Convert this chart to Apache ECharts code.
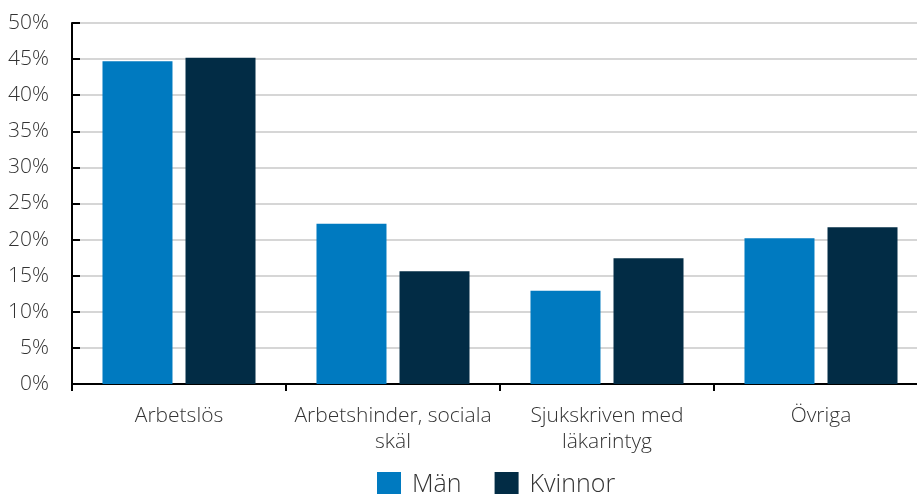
<!DOCTYPE html>
<html>
<head>
<meta charset="utf-8">
<script src="https://cdn.jsdelivr.net/npm/echarts@6/dist/echarts.min.js"></script>
<style>html,body{margin:0;padding:0;background:#fff;overflow:hidden}#c{width:928px;height:494px}</style>
</head>
<body>
<div id="c"></div>
<script>
const categories = ['Arbetslös', 'Arbetshinder, sociala\nskäl', 'Sjukskriven med\nläkarintyg', 'Övriga'];
const man = [44.7, 22.2, 12.9, 20.2];
const kvinnor = [45.2, 15.6, 17.4, 21.7];
const seriesNames = ['Män', 'Kvinnor'];

const chart = echarts.init(document.getElementById('c'));
const font = '"Open Sans", "Noto Sans", sans-serif';
chart.setOption({
  animation: false,
  textStyle: { fontFamily: font },
  grid: { left: 72, top: 23, right: 0, bottom: 110, containLabel: false },
  legend: {
    top: 467, left: 372,
    itemWidth: 24, itemHeight: 26, itemGap: 33,
    icon: 'rect',
    textStyle: { fontSize: 25, color: '#333', fontWeight: 300, fontFamily: font, padding: [12, 0, 0, 6] },
    data: seriesNames
  },
  xAxis: {
    type: 'category', data: categories,
    axisLine: { lineStyle: { color: '#000', width: 2 } },
    axisTick: { show: true, length: 7, lineStyle: { color: '#000', width: 2 } },
    axisLabel: { fontSize: 21, fontWeight: 300, color: '#333', lineHeight: 26, margin: 19, interval: 0, fontFamily: font }
  },
  yAxis: {
    type: 'value', min: 0, max: 50, interval: 5,
    axisLine: { show: true, lineStyle: { color: '#000', width: 2 } },
    axisTick: { show: true, inside: true, length: 8, lineStyle: { color: '#000', width: 2 } },
    axisLabel: { formatter: '{value}%', fontSize: 21, fontWeight: 300, color: '#333', margin: 23, fontFamily: font },
    splitLine: { lineStyle: { color: '#c8c8c8', width: 1.5 } }
  },
  series: [
    { name: seriesNames[0], type: 'bar', data: man, barWidth: 70, barGap: '18.6%', itemStyle: { color: '#007AC0' } },
    { name: seriesNames[1], type: 'bar', data: kvinnor, barWidth: 70, itemStyle: { color: '#022C45' } }
  ]
});
</script>
</body>
</html>
